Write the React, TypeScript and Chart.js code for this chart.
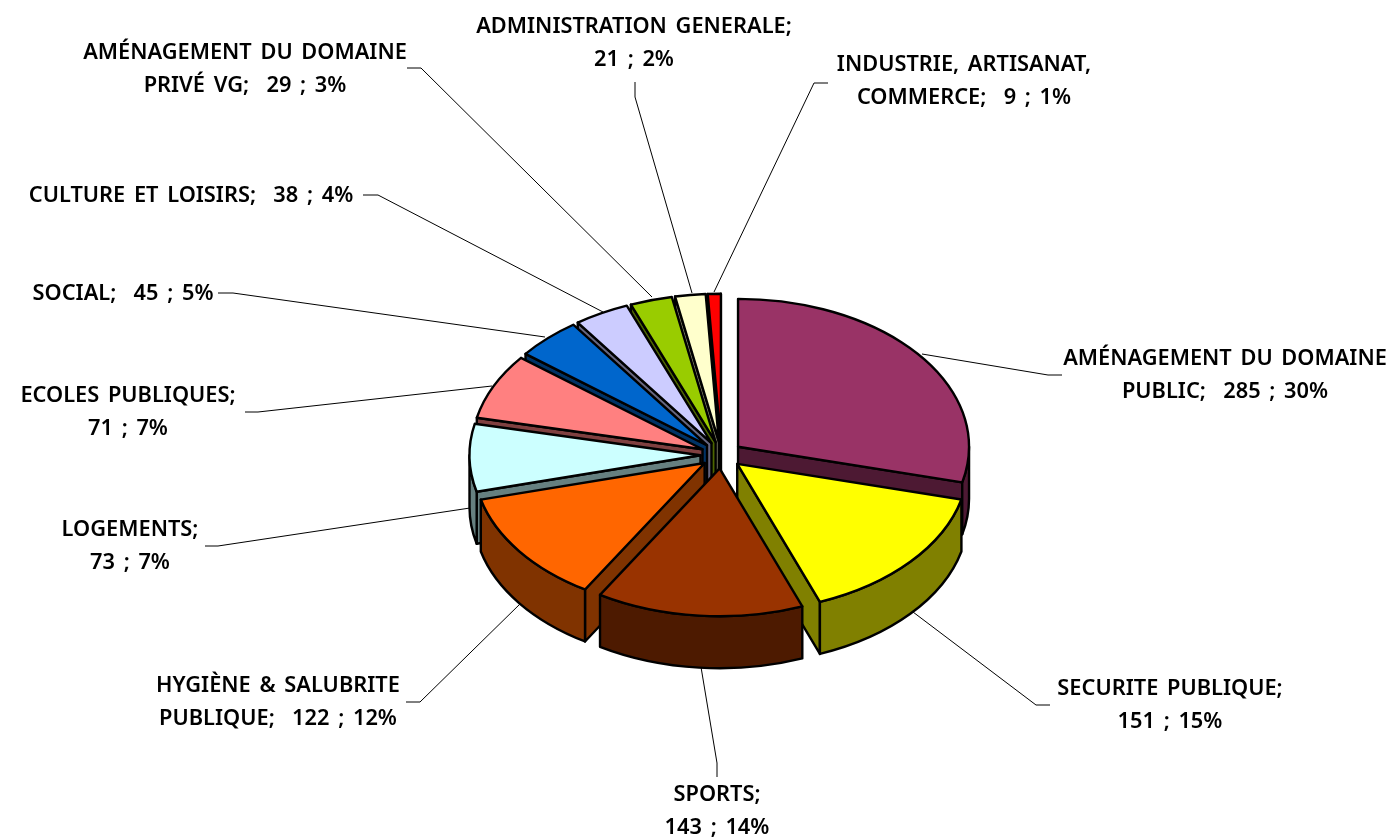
import React, { useEffect, useRef } from "react";
import { Chart, registerables } from "chart.js";

Chart.register(...registerables);

const categories = [
  "AMÉNAGEMENT DU DOMAINE\nPUBLIC",
  "SECURITE PUBLIQUE",
  "SPORTS",
  "HYGIÈNE & SALUBRITE\nPUBLIQUE",
  "LOGEMENTS",
  "ECOLES PUBLIQUES",
  "SOCIAL",
  "CULTURE ET LOISIRS",
  "AMÉNAGEMENT DU DOMAINE\nPRIVÉ VG",
  "ADMINISTRATION GENERALE",
  "INDUSTRIE, ARTISANAT,\nCOMMERCE",
];
const values = [285, 151, 143, 122, 73, 71, 45, 38, 29, 21, 9];
const percents = [30, 15, 14, 12, 7, 7, 5, 4, 3, 2, 1];
const breakAfterName = [false, true, true, false, true, true, false, false, false, true, false];

const topColors = ["#993366", "#FFFF00", "#993300", "#FF6600", "#CCFFFF", "#FF8080", "#0066CC", "#CCCCFF", "#99CC00", "#FFFFCC", "#FF0000"];
const wallColors = ["#4D1933", "#808000", "#4D1A00", "#803300", "#668080", "#804040", "#003366", "#666680", "#4D6600", "#808066", "#800000"];

// layout only
const CX = 721.5, CY = 455, RADIUS = 231, TILT = 0.64, DEPTH = 52, EXPLODE = 21;
const FONT = '600 21.8px "Noto Sans"';
const LINE_H = 33;
const labelCentres = [
  [1225, 359], [1170, 689], [717, 795], [278, 686], [130, 530], [128, 396],
  [123, 294], [191, 196], [245, 53], [634, 27], [964, 65],
];
const leaderPaths = [
  [[922, 354], [1048, 375], [1062, 375]],
  [[913, 612], [1036, 705], [1050, 705]],
  [[701, 667], [717, 763], [717, 777]],
  [[521, 603], [420, 702], [406, 702]],
  [[470, 508], [218, 546], [205, 546]],
  [[492, 386], [258, 412], [245, 412]],
  [[545, 337], [233, 293], [218, 293]],
  [[603, 312], [378, 195], [363, 195]],
  [[652, 297], [421, 68], [407, 68]],
  [[692, 293], [635, 97], [635, 82]],
  [[714, 292], [814, 83], [828, 83]],
];

function labelLines(i: number): string[] {
  const sep = breakAfterName[i] ? "\n" : "  ";
  return `${categories[i]};${sep}${values[i]} ; ${percents[i]}%`.split("\n");
}

const pie3d = {
  id: "pie3d",
  beforeDatasetDraw(chart: any, args: any) {
    const ctx: CanvasRenderingContext2D = chart.ctx;
    const arcs: any[] = args.meta.data;
    const items = arcs.map((arc, i) => {
      const mid = (arc.startAngle + arc.endAngle) / 2;
      return {
        arc, i, mid,
        x: arc.x + Math.cos(mid) * EXPLODE,
        y: arc.y + Math.sin(mid) * EXPLODE * TILT,
      };
    });
    items.sort((a, b) => Math.sin(a.mid) - Math.sin(b.mid));
    ctx.save();
    ctx.lineWidth = 2.4;
    ctx.lineJoin = "round";
    ctx.strokeStyle = "#000";
    const r = (it: any) => it.arc.outerRadius;
    const face = (it: any, a: number) => {
      const ex = it.x + Math.cos(a) * r(it);
      const ey = it.y + Math.sin(a) * r(it) * TILT;
      ctx.beginPath();
      ctx.moveTo(it.x, it.y);
      ctx.lineTo(ex, ey);
      ctx.lineTo(ex, ey + DEPTH);
      ctx.lineTo(it.x, it.y + DEPTH);
      ctx.closePath();
      ctx.fillStyle = wallColors[it.i];
      ctx.fill();
      ctx.stroke();
    };
    for (const it of items) {
      const a0 = it.arc.startAngle, a1 = it.arc.endAngle;
      if (Math.cos(a0) < 0) face(it, a0);
      if (Math.cos(a1) > 0) face(it, a1);
      const b0 = Math.max(a0, 0), b1 = Math.min(a1, Math.PI);
      if (b1 > b0) {
        ctx.beginPath();
        ctx.ellipse(it.x, it.y, r(it), r(it) * TILT, 0, b0, b1);
        ctx.ellipse(it.x, it.y + DEPTH, r(it), r(it) * TILT, 0, b1, b0, true);
        ctx.closePath();
        ctx.fillStyle = wallColors[it.i];
        ctx.fill();
        ctx.stroke();
      }
    }
    for (const it of items) {
      ctx.save();
      ctx.translate(it.x, it.y);
      ctx.scale(1, TILT);
      ctx.translate(-it.arc.x, -it.arc.y);
      it.arc.draw(ctx);
      ctx.restore();
      ctx.beginPath();
      ctx.moveTo(it.x, it.y);
      ctx.ellipse(it.x, it.y, r(it), r(it) * TILT, 0, it.arc.startAngle, it.arc.endAngle);
      ctx.closePath();
      ctx.stroke();
    }
    ctx.restore();
    return false;
  },
  afterDatasetsDraw(chart: any) {
    const ctx: CanvasRenderingContext2D = chart.ctx;
    ctx.save();
    ctx.strokeStyle = "#000";
    ctx.lineWidth = 1;
    leaderPaths.forEach((p) => {
      ctx.beginPath();
      p.forEach(([x, y], k) => (k ? ctx.lineTo(x, y) : ctx.moveTo(x, y)));
      ctx.stroke();
    });
    ctx.fillStyle = "#000";
    ctx.font = FONT;
    (ctx as any).wordSpacing = "3px";
    ctx.textAlign = "center";
    ctx.textBaseline = "middle";
    labelCentres.forEach(([x, y], i) => {
      labelLines(i).forEach((t, k) => ctx.fillText(t, x, y + k * LINE_H));
    });
    ctx.restore();
  },
};

export default function App() {
  const ref = useRef<HTMLCanvasElement>(null);
  useEffect(() => {
    const chart = new Chart(ref.current!, {
      type: "pie",
      data: {
        labels: categories.map((c) => c.replace("\n", " ")),
        datasets: [{ data: values, backgroundColor: topColors, borderWidth: 0 }],
      },
      options: {
        responsive: false,
        animation: false,
        radius: RADIUS,
        layout: { padding: { left: 2 * CX - 1386, top: 2 * CY - 838 } },
        plugins: { legend: { display: false }, tooltip: { enabled: false } },
      } as any,
      plugins: [pie3d],
    });
    return () => chart.destroy();
  }, []);
  return (
    <canvas
      ref={ref}
      width={1386}
      height={838}
      style={{ position: "fixed", left: 0, top: 0, display: "block", background: "#fff" }}
    />
  );
}
